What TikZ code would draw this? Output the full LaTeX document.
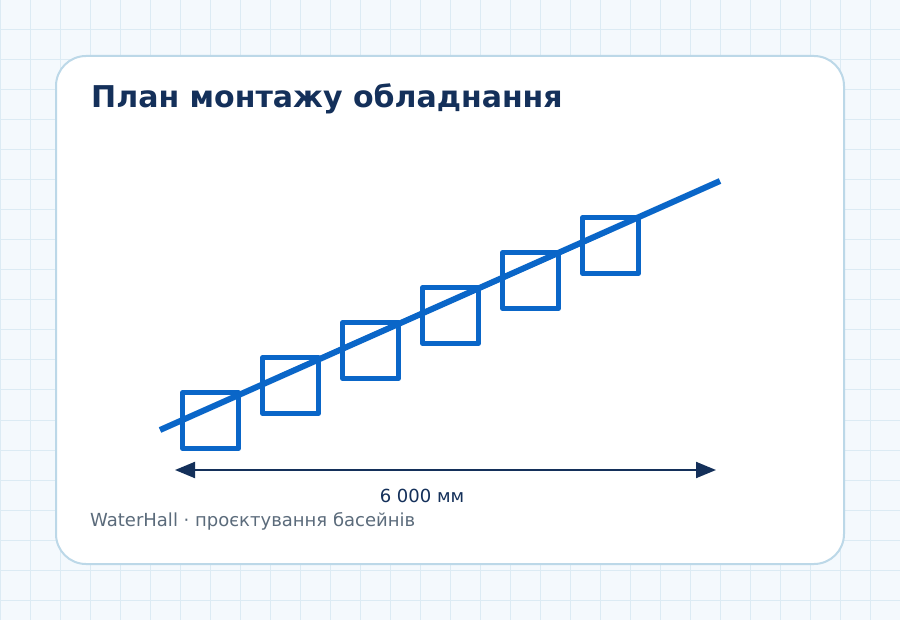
\documentclass[tikz,border=0pt]{standalone}
\usepackage{fontspec}
\setmainfont{DejaVu Sans}
\usetikzlibrary{arrows.meta}
\definecolor{navy}{HTML}{14305A}
\definecolor{pipeblue}{HTML}{0A66C8}
\definecolor{gridbg}{HTML}{F4F9FD}
\definecolor{gridln}{HTML}{DCEBF4}
\definecolor{cardln}{HTML}{BCD8E8}
\definecolor{footgray}{HTML}{5B6B7B}
\tikzset{
  cardbox/.style={draw=cardln, line width=2pt, fill=white, rounded corners=30pt},
  panel/.style={draw=pipeblue, line width=4.5pt, minimum size=56pt, inner sep=0pt},
  pipe/.style={pipeblue, line width=6pt},
  dimline/.style={navy, line width=2pt, <->},
  txt/.style={inner sep=0pt}
}
\begin{document}
\begin{tikzpicture}[x=1pt, y=-1pt, line join=round, >={Triangle[length=20pt,width=16pt]}]
				\useasboundingbox (0,0) rectangle (900,620);
				\fill[gridbg] (0,0) rectangle (900,620);
				\foreach \g in {0,30,...,900} \draw[gridln, line width=1pt] (\g,0)--(\g,620);
				\foreach \g in {0,30,...,600} \draw[gridln, line width=1pt] (0,\g)--(900,\g);
				\draw[cardbox] (56,56) rectangle (844,564);
				\node[txt, anchor=base west, text=navy, font=\bfseries\fontsize{30}{34}\selectfont] (title) at (91,108) {План монтажу обладнання};
				%\draw[red] (160,180) grid (720,450);
				\foreach \i in {0,...,5}
					\node[panel] (sq\i) at (210.5+80*\i,420.5-35*\i) {};
				\coordinate (P1) at (160,430); 
				\coordinate (P2) at (720,181); 
				\draw[pipe] (P1)--(P2);
				\coordinate (D1) at (175,470); 
				\coordinate (D2) at (716,470); 
				\draw[dimline] (D1)--(D2);
				\node[txt, anchor=base, text=navy, font=\fontsize{18}{21}\selectfont] (len) at (422,502) {6 000 мм};
				\node[txt, anchor=base west, text=footgray, font=\fontsize{18}{21}\selectfont] (foot) at (90,526) {WaterHall · проєктування басейнів};
			\end{tikzpicture}
\end{document}
